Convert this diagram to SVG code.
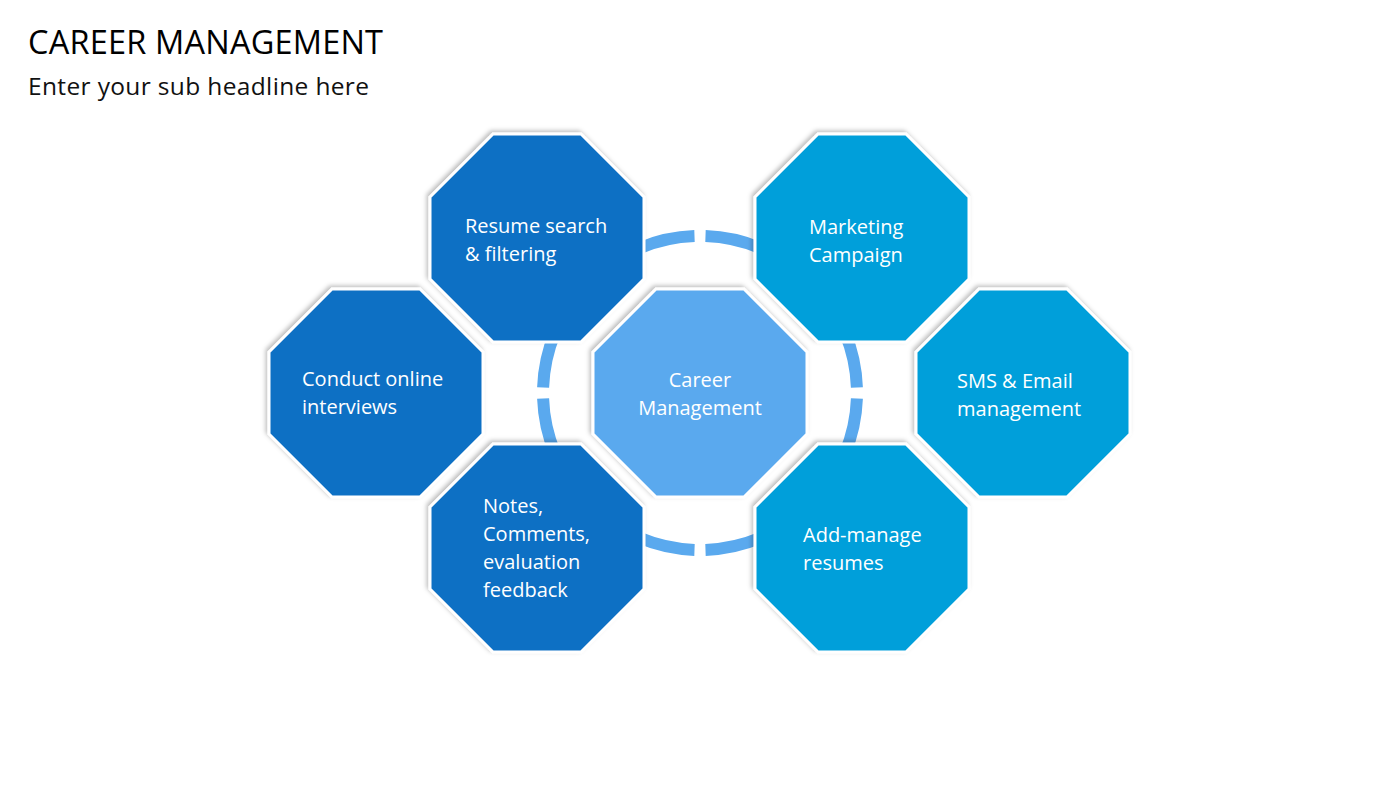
<svg xmlns="http://www.w3.org/2000/svg" width="1400" height="788" viewBox="0 0 1400 788">
<style>
.t{font-family:"Open Sans","Liberation Sans",sans-serif;font-size:20px;fill:#fff}
.dk{fill:#1170C4}.lt{fill:#039FDA}.ct{fill:#5AA9EE}
.oct{stroke:#fff;stroke-width:3;filter:url(#sh)}
</style>
<defs>
<polygon id="o" points="-44,-104 44,-104 107,-41 107,41 44,104 -44,104 -107,41 -107,-41"/>
<filter id="sh" x="-10%" y="-10%" width="120%" height="120%"><feDropShadow dx="-2" dy="-2" stdDeviation="2" flood-color="#000" flood-opacity="0.25"/></filter>
</defs>
<rect width="1400" height="788" fill="#fff"/>
<text x="28" y="54" font-family="'Open Sans','Liberation Sans',sans-serif" font-size="32.5" fill="#000" textLength="355">CAREER MANAGEMENT</text>
<text x="28" y="95" font-family="'Open Sans','Liberation Sans',sans-serif" font-size="24.5" fill="#111" textLength="341">Enter your sub headline here</text>
<g id="connectors" fill="none" stroke="#5AA9EE" stroke-width="12">
<path d="M856.9,398.5 A157,157 0 0 1 705.5,549.9"/>
<path d="M694.5,549.9 A157,157 0 0 1 543.1,398.5"/>
<path d="M543.1,387.5 A157,157 0 0 1 694.5,236.1"/>
<path d="M705.5,236.1 A157,157 0 0 1 856.9,387.5"/>
</g>
<g id="center"><use href="#o" class="ct oct" transform="translate(700,393)"/>
<text class="t" x="700" y="387" text-anchor="middle">Career</text><text class="t" x="700" y="415" text-anchor="middle">Management</text></g>
<g id="resume"><use href="#o" class="dk oct" transform="translate(537,238)"/>
<text class="t" x="465" y="233">Resume search</text><text class="t" x="465" y="261">&amp; filtering</text></g>
<g id="interviews"><use href="#o" class="dk oct" transform="translate(376,393)"/>
<text class="t" x="302" y="386">Conduct online</text><text class="t" x="302" y="414">interviews</text></g>
<g id="notes"><use href="#o" class="dk oct" transform="translate(537,548)"/>
<text class="t" x="483" y="513">Notes,</text><text class="t" x="483" y="541">Comments,</text><text class="t" x="483" y="569">evaluation</text><text class="t" x="483" y="597">feedback</text></g>
<g id="marketing"><use href="#o" class="lt oct" transform="translate(862,238)"/>
<text class="t" x="809" y="234">Marketing</text><text class="t" x="809" y="262">Campaign</text></g>
<g id="sms"><use href="#o" class="lt oct" transform="translate(1023,393)"/>
<text class="t" x="957" y="388">SMS &amp; Email</text><text class="t" x="957" y="416">management</text></g>
<g id="addmanage"><use href="#o" class="lt oct" transform="translate(862,548)"/>
<text class="t" x="803" y="542">Add-manage</text><text class="t" x="803" y="570">resumes</text></g>
</svg>
